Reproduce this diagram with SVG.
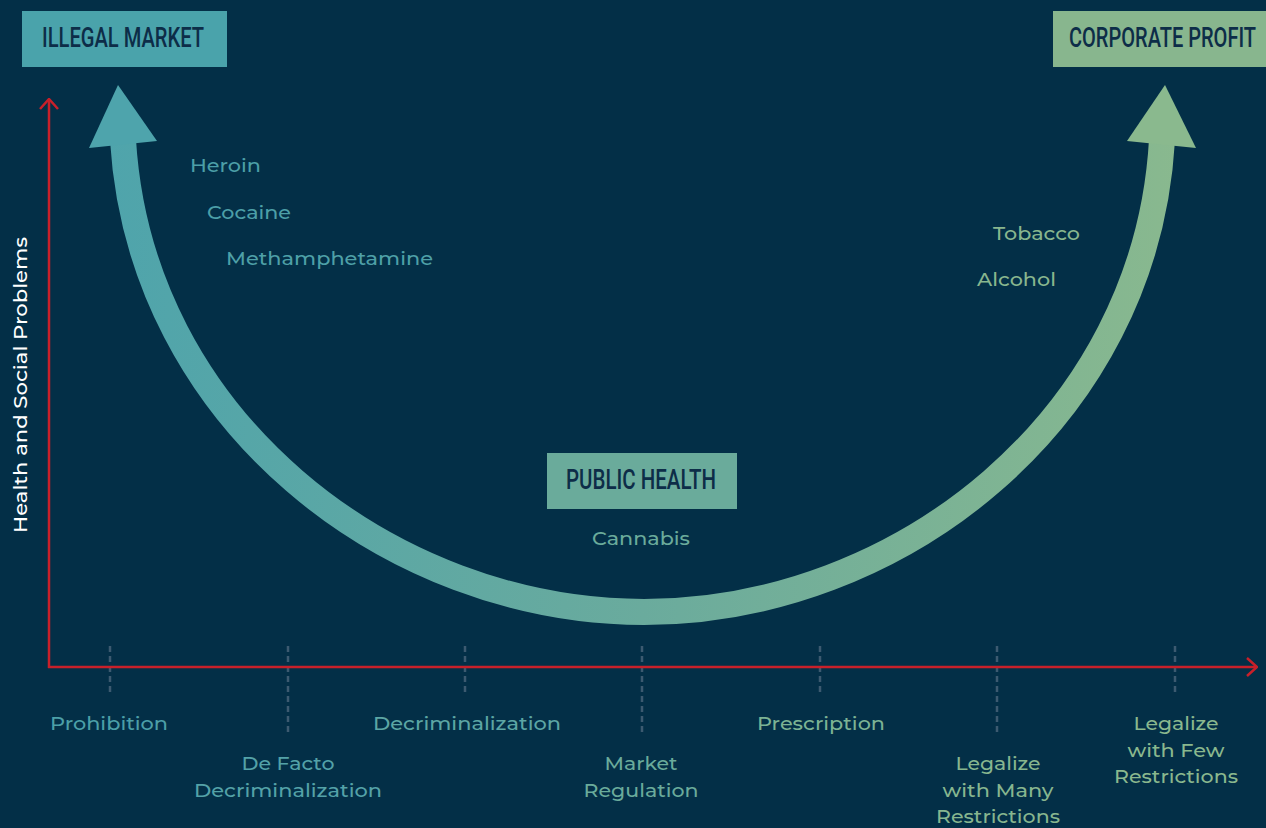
<svg xmlns="http://www.w3.org/2000/svg" width="1266" height="828" viewBox="0 0 1266 828">
  <defs>
    <linearGradient id="arcGrad" gradientUnits="userSpaceOnUse" x1="90" y1="0" x2="1196" y2="0">
      <stop offset="0" stop-color="#4ea4ac"/>
      <stop offset="0.5" stop-color="#6aab9d"/>
      <stop offset="1" stop-color="#8ab98e"/>
    </linearGradient>
    <marker id="chev" viewBox="0 0 12 20" refX="11" refY="10" markerWidth="12" markerHeight="20" markerUnits="userSpaceOnUse" orient="auto">
      <path d="M1,1 L11,10 L1,19" fill="none" stroke="#c8202a" stroke-width="2.5"/>
    </marker>
    <style>
      .lbl { font-family: Montserrat, "Open Sans", "Noto Sans", sans-serif; font-size: 19px; font-weight: 500; }
      .hdr { font-family: "Roboto", "DejaVu Sans", sans-serif; font-size: 28px; font-weight: 500; fill: #0d2d48; }
      .tick { stroke: #3c5a70; stroke-width: 2.5; stroke-dasharray: 6 4; }
      .axis { stroke: #c8202a; stroke-width: 2.5; fill: none; }
    </style>
  </defs>

  <rect width="1266" height="828" fill="#032f47"/>

  <!-- tick marks along the policy axis -->
  <g id="ticks">
    <line class="tick" x1="110" y1="646" x2="110" y2="696"/>
    <line class="tick" x1="288" y1="646" x2="288" y2="734"/>
    <line class="tick" x1="465" y1="646" x2="465" y2="696"/>
    <line class="tick" x1="642" y1="646" x2="642" y2="734"/>
    <line class="tick" x1="820" y1="646" x2="820" y2="696"/>
    <line class="tick" x1="997" y1="646" x2="997" y2="734"/>
    <line class="tick" x1="1175" y1="646" x2="1175" y2="696"/>
  </g>

  <!-- axes -->
  <g id="axes">
    <path class="axis" d="M49,668 L49,99" marker-end="url(#chev)"/>
    <path class="axis" d="M48,667 L1257,667" marker-end="url(#chev)"/>
    <text x="27" y="385" transform="rotate(-90 27 385)" text-anchor="middle" font-family="Montserrat, 'Open Sans', 'Noto Sans', sans-serif" font-size="19" font-weight="500" fill="#ffffff" textLength="296" lengthAdjust="spacingAndGlyphs">Health and Social Problems</text>
  </g>

  <!-- U-shaped double-headed arrow -->
  <g id="connectors">
    <path d="M123,140 C140,420 390,612 644,612 C898,612 1146,420 1162,140" fill="none" stroke="url(#arcGrad)" stroke-width="26"/>
    <polygon points="118,85 157,141 89,148" fill="#4ea4ac"/>
    <polygon points="1165,85 1196,148 1127,141" fill="#8ab98e"/>
  </g>

  <g id="illegal-market">
    <rect x="22" y="11" width="205" height="56" fill="#4aa3ab"/>
    <text class="hdr" x="42" y="47" textLength="162" lengthAdjust="spacingAndGlyphs">ILLEGAL MARKET</text>
  </g>

  <g id="corporate-profit">
    <rect x="1053" y="11" width="213" height="56" fill="#88b68e"/>
    <text class="hdr" x="1069" y="47" textLength="187" lengthAdjust="spacingAndGlyphs">CORPORATE PROFIT</text>
  </g>

  <g id="public-health">
    <rect x="547" y="453" width="190" height="56" fill="#6aab9b"/>
    <text class="hdr" x="566" y="489" textLength="150" lengthAdjust="spacingAndGlyphs">PUBLIC HEALTH</text>
  </g>

  <!-- substances -->
  <g id="substances" class="lbl">
    <text x="190" y="172" fill="#4c9fa7" textLength="71" lengthAdjust="spacingAndGlyphs">Heroin</text>
    <text x="207" y="219" fill="#4c9fa7" textLength="84" lengthAdjust="spacingAndGlyphs">Cocaine</text>
    <text x="226" y="265" fill="#4ea0a7" textLength="207" lengthAdjust="spacingAndGlyphs">Methamphetamine</text>
    <text x="993" y="240" fill="#88b68e" textLength="87" lengthAdjust="spacingAndGlyphs">Tobacco</text>
    <text x="977" y="286" fill="#88b68e" textLength="79" lengthAdjust="spacingAndGlyphs">Alcohol</text>
    <text x="592" y="545" fill="#6aab9b" textLength="98" lengthAdjust="spacingAndGlyphs">Cannabis</text>
  </g>

  <!-- policy positions -->
  <g id="policies" class="lbl" text-anchor="middle">
    <text x="109" y="730" fill="#4c9fa7" textLength="118" lengthAdjust="spacingAndGlyphs">Prohibition</text>
    <text x="288" y="770" fill="#54a2a8" textLength="93" lengthAdjust="spacingAndGlyphs">De Facto</text>
    <text x="288" y="797" fill="#54a2a8" textLength="188" lengthAdjust="spacingAndGlyphs">Decriminalization</text>
    <text x="467" y="730" fill="#5ca6a4" textLength="188" lengthAdjust="spacingAndGlyphs">Decriminalization</text>
    <text x="641" y="770" fill="#6aab9b" textLength="73" lengthAdjust="spacingAndGlyphs">Market</text>
    <text x="641" y="797" fill="#6aab9b" textLength="115" lengthAdjust="spacingAndGlyphs">Regulation</text>
    <text x="821" y="730" fill="#7cb394" textLength="128" lengthAdjust="spacingAndGlyphs">Prescription</text>
    <text x="998" y="770" fill="#87b68f" textLength="85" lengthAdjust="spacingAndGlyphs">Legalize</text>
    <text x="998" y="797" fill="#87b68f" textLength="111" lengthAdjust="spacingAndGlyphs">with Many</text>
    <text x="998" y="823" fill="#87b68f" textLength="124" lengthAdjust="spacingAndGlyphs">Restrictions</text>
    <text x="1176" y="730" fill="#8ab88e" textLength="85" lengthAdjust="spacingAndGlyphs">Legalize</text>
    <text x="1176" y="757" fill="#8ab88e" textLength="97" lengthAdjust="spacingAndGlyphs">with Few</text>
    <text x="1176" y="783" fill="#8ab88e" textLength="124" lengthAdjust="spacingAndGlyphs">Restrictions</text>
  </g>
</svg>
